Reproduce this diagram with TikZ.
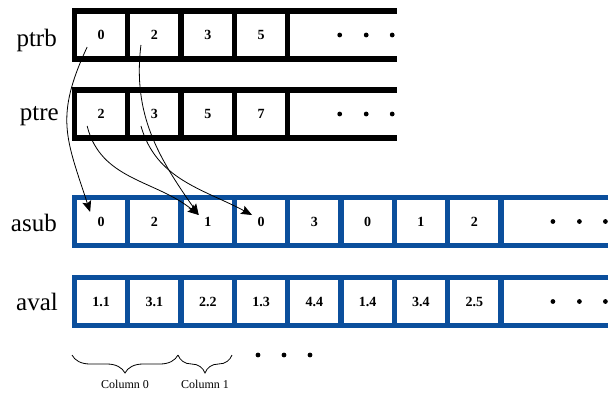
\documentclass[tikz,border=0pt]{standalone}
\usepackage{fontspec}
\setmainfont{Liberation Serif}
\usetikzlibrary{arrows.meta,decorations.pathreplacing}
\definecolor{csrBlue}{HTML}{0B4F9C}
\tikzset{
  cell/.style={draw, line width=5.3pt, minimum width=53.3pt, minimum height=48pt,
    inner sep=0pt, outer sep=0pt, font=\fontsize{14}{14}\selectfont\bfseries},
  rowline/.style={line width=5.3pt},
  ellipsisdot/.style={circle, fill=black, inner sep=0pt, minimum size=4.8pt},
  rowlabel/.style={anchor=base east, inner sep=0pt, font=\fontsize{25}{25}\selectfont},
  ptr/.style={-{Stealth[length=11pt,width=9pt,inset=2pt]}, line width=0.8pt},
  colbrace/.style={decorate, decoration={brace, mirror, amplitude=18pt}, line width=0.8pt},
}
\newcommand{\cellrow}[5]{% prefix y colour values tail
  \foreach \v [count=\i] in {#4} {
    \node[cell, draw=#3] (#1\i) at ({101.15+53.3*(\i-1)}, #2) {\v};
    \xdef\lastcellname{#1\i}
  }
  \draw[rowline, #3] (\lastcellname.north east) -- ++(#5,0);
  \draw[rowline, #3] (\lastcellname.south east) -- ++(#5,0);
  \foreach \dx [count=\j] in {52,78.5,104.5}
    \node[ellipsisdot] (#1d\j) at ([xshift=\dx pt]\lastcellname.east) {};
}
\begin{document}
\begin{tikzpicture}[x=1pt, y=-1pt]
  \useasboundingbox (0,0) rectangle (608,394);

  % ---- pointer arrays ----
  \cellrow{pb}{35}{black}{0,2,3,5}{109.3}
  \cellrow{pe}{114}{black}{2,3,5,7}{109.3}
  \node[rowlabel] (lpb) at (57,46.7) {ptrb};
  \node[rowlabel] (lpe) at (59,120) {ptre};

  % ---- index and value arrays ----
  \cellrow{as}{221.5}{csrBlue}{0,2,1,0,3,0,1,2}{108}
  \cellrow{av}{301.5}{csrBlue}{1.1,3.1,2.2,1.3,4.4,1.4,3.4,2.5}{108}
  \node[rowlabel] (las) at (57,231.7) {asub};
  \node[rowlabel] (lav) at (58,310) {aval};

  % ---- pointers into asub ----
  \draw[ptr] ([xshift=-14pt,yshift=-12pt]pb1.center) to[out=-115,in=108,looseness=1.2]
    ([xshift=-11pt,yshift=9.5pt]as1.center);
  \draw[ptr] ([xshift=-13.5pt,yshift=-10pt]pb2.center) to[out=-97,in=125]
    ([xshift=-9pt,yshift=6.5pt]as3.center);
  \draw[ptr] ([xshift=-14pt,yshift=-12pt]pe1.center) to[out=-76,in=141]
    ([xshift=-9pt,yshift=6.5pt]as3.center);
  \draw[ptr] ([xshift=-13.5pt,yshift=-12pt]pe2.center) to[out=-74,in=152]
    ([xshift=-9pt,yshift=6.5pt]as4.center);

  % ---- columns ----
  \coordinate (c0) at (72,355);
  \coordinate (c1) at (178,355);
  \coordinate (c2) at (232,355);
  \draw[colbrace] (c0) -- (c1)
    node[midway, anchor=base, yshift=-33pt, inner sep=0pt, font=\fontsize{12}{12}\selectfont] (col0) {Column 0};
  \draw[colbrace] (c1) -- (c2)
    node[midway, anchor=base, yshift=-33pt, inner sep=0pt, font=\fontsize{12}{12}\selectfont] (col1) {Column 1};
  \foreach \dx [count=\j] in {26,52,78}
    \node[ellipsisdot] (cd\j) at ([xshift=\dx pt]c2) {};
\end{tikzpicture}
\end{document}
